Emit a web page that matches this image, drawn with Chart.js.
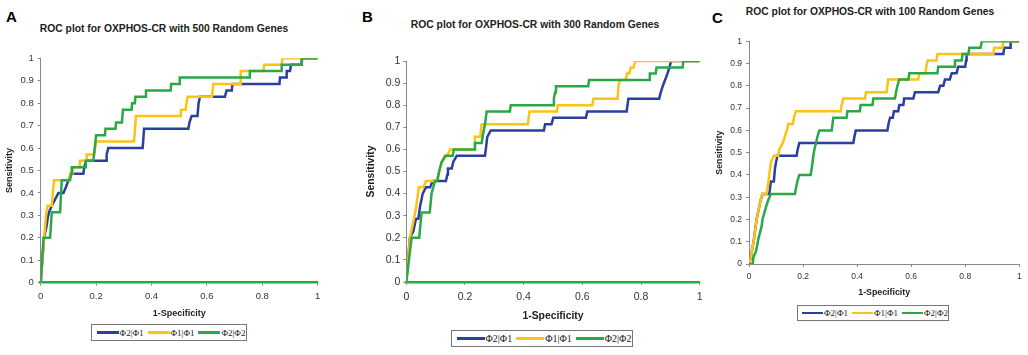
<!DOCTYPE html>
<html>
<head>
<meta charset="utf-8">
<script src="https://cdn.jsdelivr.net/npm/chart.js@4.4.1/dist/chart.umd.min.js"></script>
<style>
body { margin: 0; background: #fff; }
#wrap { position: relative; width: 1028px; height: 355px; overflow: hidden; font-family: "Liberation Sans", Arial, sans-serif; }
canvas { position: absolute; }
.letter { position: absolute; font-weight: bold; font-size: 15px; color: #000; line-height: 1; }
.title { position: absolute; font-weight: bold; font-size: 10.3px; color: #222; white-space: nowrap; transform: translate(-50%, -50%); }
.legend { position: absolute; box-sizing: border-box; border: 1px solid #777; background: #fff;
  display: flex; align-items: center; justify-content: center; font-family: "Liberation Serif", "DejaVu Serif", serif; color: #222; white-space: nowrap; }
.legend .ln { display: inline-block; height: 2.5px; margin: 0 1px 0 4px; }
</style>
</head>
<body>
<div id="wrap">
  <div class="letter" style="left:6px;top:9px">A</div>
  <div class="letter" style="left:362px;top:9px">B</div>
  <div class="letter" style="left:712px;top:10px">C</div>
  <div class="title" id="titleA" style="left:164px;top:28px"></div>
  <div class="title" id="titleB" style="left:535px;top:24px"></div>
  <div class="title" id="titleC" style="left:870px;top:11px"></div>
  <canvas id="chartA" width="330" height="320" style="left:0;top:0"></canvas>
  <canvas id="chartB" width="375" height="323" style="left:340px;top:0"></canvas>
  <canvas id="chartC" width="338" height="300" style="left:690px;top:0"></canvas>
  <div class="legend" id="legendA" style="left:91px;top:324px;width:156px;height:17px;font-size:9px"></div>
  <div class="legend" id="legendB" style="left:451px;top:330px;width:182px;height:17px;font-size:10px"></div>
  <div class="legend" id="legendC" style="left:797px;top:305px;width:152px;height:16px;font-size:9px"></div>
</div>
<script>
// DATA
const panelTitles = [
	'ROC plot for OXPHOS-CR with 500 Random Genes',
	'ROC plot for OXPHOS-CR with 300 Random Genes',
	'ROC plot for OXPHOS-CR with 100 Random Genes'
];
const seriesNames = ['Φ2|Φ1', 'Φ1|Φ1', 'Φ2|Φ2'];
const seriesColors = ['#2b3f9e', '#fcc214', '#2ba846'];
const xTicks = [0, 0.2, 0.4, 0.6, 0.8, 1];
const yTicks = [0, 0.1, 0.2, 0.3, 0.4, 0.5, 0.6, 0.7, 0.8, 0.9, 1];
const xLabel = '1-Specificity';
const yLabel = 'Sensitivity';

// panel A : 500 random genes  [1-specificity, sensitivity]
const rocA_21 = [[0,0],[0.012,0.2],[0.022,0.257],[0.025,0.286],[0.03,0.314],[0.04,0.343],[0.052,0.371],[0.064,0.4],[0.082,0.4],[0.092,0.429],[0.1,0.457],[0.112,0.486],[0.154,0.486],[0.157,0.514],[0.164,0.543],[0.236,0.543],[0.238,0.571],[0.244,0.6],[0.368,0.6],[0.37,0.629],[0.373,0.686],[0.533,0.686],[0.537,0.714],[0.545,0.743],[0.566,0.743],[0.57,0.8],[0.575,0.829],[0.665,0.829],[0.671,0.857],[0.69,0.857],[0.692,0.886],[0.862,0.886],[0.864,0.914],[0.886,0.914],[0.888,0.943],[0.9,0.943],[0.904,0.971],[0.94,0.971],[0.942,1],[1,1]];
const rocA_11 = [[0,0],[0.012,0.2],[0.02,0.31],[0.025,0.343],[0.04,0.343],[0.048,0.457],[0.103,0.457],[0.106,0.486],[0.115,0.486],[0.118,0.514],[0.14,0.514],[0.142,0.543],[0.164,0.543],[0.166,0.571],[0.193,0.571],[0.2,0.629],[0.337,0.629],[0.344,0.743],[0.503,0.743],[0.506,0.771],[0.523,0.771],[0.53,0.829],[0.618,0.829],[0.623,0.886],[0.72,0.886],[0.722,0.943],[0.804,0.943],[0.807,0.971],[0.87,0.971],[0.873,1],[1,1]];
const rocA_22 = [[0,0],[0.01,0.2],[0.034,0.2],[0.04,0.314],[0.07,0.314],[0.076,0.457],[0.106,0.457],[0.11,0.486],[0.112,0.514],[0.16,0.514],[0.163,0.543],[0.19,0.543],[0.2,0.657],[0.232,0.657],[0.234,0.686],[0.27,0.686],[0.272,0.714],[0.293,0.714],[0.297,0.771],[0.328,0.771],[0.33,0.8],[0.34,0.8],[0.342,0.829],[0.377,0.829],[0.38,0.857],[0.469,0.857],[0.471,0.886],[0.5,0.886],[0.502,0.914],[0.753,0.914],[0.755,0.943],[0.868,0.943],[0.87,0.971],[0.942,0.971],[0.944,1],[1,1]];

// panel B : 300 random genes
const rocB_21 = [[0,0],[0.012,0.2],[0.024,0.229],[0.033,0.286],[0.041,0.286],[0.047,0.343],[0.056,0.4],[0.067,0.429],[0.081,0.429],[0.09,0.457],[0.135,0.457],[0.14,0.486],[0.142,0.514],[0.155,0.514],[0.16,0.543],[0.172,0.571],[0.268,0.571],[0.271,0.6],[0.276,0.657],[0.288,0.686],[0.469,0.686],[0.473,0.714],[0.495,0.714],[0.501,0.743],[0.612,0.743],[0.617,0.771],[0.751,0.771],[0.754,0.8],[0.757,0.829],[0.862,0.829],[0.867,0.857],[0.874,0.886],[0.882,0.914],[0.89,0.943],[0.897,0.971],[0.902,1],[1,1]];
const rocB_11 = [[0,0],[0.0125,0.2],[0.026,0.286],[0.034,0.343],[0.043,0.429],[0.058,0.429],[0.067,0.457],[0.103,0.457],[0.109,0.486],[0.115,0.514],[0.122,0.543],[0.13,0.571],[0.14,0.571],[0.149,0.6],[0.232,0.6],[0.234,0.657],[0.252,0.657],[0.257,0.714],[0.414,0.714],[0.417,0.743],[0.42,0.771],[0.513,0.771],[0.516,0.8],[0.634,0.8],[0.638,0.829],[0.72,0.829],[0.723,0.886],[0.728,0.914],[0.748,0.914],[0.752,0.943],[0.76,0.943],[0.765,0.971],[0.775,0.971],[0.78,1],[1,1]];
const rocB_22 = [[0,0],[0.018,0.2],[0.044,0.2],[0.052,0.314],[0.08,0.314],[0.086,0.4],[0.098,0.457],[0.106,0.457],[0.112,0.5],[0.12,0.543],[0.135,0.571],[0.158,0.571],[0.162,0.6],[0.232,0.6],[0.234,0.629],[0.257,0.629],[0.26,0.657],[0.268,0.714],[0.274,0.771],[0.353,0.771],[0.356,0.8],[0.5,0.8],[0.503,0.829],[0.507,0.857],[0.51,0.886],[0.62,0.886],[0.623,0.914],[0.828,0.914],[0.83,0.943],[0.85,0.943],[0.853,0.971],[0.942,0.971],[0.944,1],[1,1]];

// panel C : 100 random genes
const rocC_21 = [[0,0],[0.007,0.03],[0.018,0.11],[0.028,0.2],[0.043,0.286],[0.05,0.314],[0.075,0.314],[0.081,0.371],[0.092,0.371],[0.096,0.429],[0.1,0.457],[0.105,0.486],[0.176,0.486],[0.18,0.514],[0.186,0.543],[0.386,0.543],[0.39,0.571],[0.395,0.6],[0.512,0.6],[0.516,0.629],[0.522,0.657],[0.532,0.657],[0.536,0.686],[0.552,0.686],[0.556,0.714],[0.571,0.714],[0.574,0.743],[0.608,0.743],[0.614,0.771],[0.7,0.771],[0.707,0.8],[0.719,0.8],[0.725,0.829],[0.743,0.829],[0.75,0.857],[0.768,0.857],[0.774,0.886],[0.8,0.886],[0.803,0.914],[0.805,0.943],[0.941,0.943],[0.944,0.971],[0.966,0.971],[0.968,1],[1,1]];
const rocC_11 = [[0,0],[0.007,0.03],[0.018,0.11],[0.028,0.2],[0.043,0.286],[0.049,0.314],[0.065,0.314],[0.072,0.371],[0.075,0.4],[0.081,0.457],[0.092,0.486],[0.108,0.486],[0.112,0.514],[0.125,0.543],[0.132,0.571],[0.14,0.6],[0.145,0.629],[0.162,0.629],[0.166,0.657],[0.174,0.686],[0.339,0.686],[0.343,0.714],[0.349,0.743],[0.429,0.743],[0.433,0.771],[0.509,0.771],[0.512,0.8],[0.515,0.829],[0.626,0.829],[0.63,0.857],[0.652,0.857],[0.656,0.886],[0.661,0.914],[0.694,0.914],[0.697,0.943],[0.904,0.943],[0.907,0.971],[0.938,0.971],[0.94,1],[1,1]];
const rocC_22 = [[0,0],[0.014,0],[0.016,0.029],[0.026,0.057],[0.035,0.114],[0.047,0.171],[0.05,0.2],[0.063,0.257],[0.071,0.286],[0.081,0.314],[0.17,0.314],[0.174,0.343],[0.179,0.371],[0.186,0.4],[0.228,0.4],[0.232,0.429],[0.235,0.457],[0.238,0.486],[0.242,0.514],[0.248,0.543],[0.253,0.571],[0.26,0.6],[0.306,0.6],[0.309,0.629],[0.312,0.657],[0.361,0.657],[0.364,0.686],[0.41,0.686],[0.413,0.714],[0.457,0.714],[0.46,0.743],[0.54,0.743],[0.544,0.771],[0.549,0.8],[0.556,0.829],[0.59,0.829],[0.593,0.857],[0.697,0.857],[0.7,0.886],[0.76,0.886],[0.762,0.914],[0.787,0.914],[0.79,0.943],[0.812,0.943],[0.815,0.971],[0.857,0.971],[0.861,1],[1,1]];

// LAYOUT (per panel)
const panels = [
	{ id: 'A', series: [rocA_21, rocA_11, rocA_22], pad: { left: 1, top: 58.3, right: 12.3, bottom: 0 },
	  yWidth: 39.7, xHeight: 37.3, tickSize: 9.5, labelSize: 9, yTickPad: 4, xTickPad: 5, yTitlePad: 3.4, xTitlePad: 0.7, xBorder: '#2ba846' },
	{ id: 'B', series: [rocB_21, rocB_11, rocB_22], pad: { left: 20, top: 61, right: 15.3, bottom: 0 },
	  yWidth: 46.3, xHeight: 41, tickSize: 10.5, labelSize: 10.4, yTickPad: 3, xTickPad: 5.5, yTitlePad: 4.8, xTitlePad: 0.8, xBorder: '#2ba846' },
	{ id: 'C', series: [rocC_21, rocC_11, rocC_22], pad: { left: 19, top: 41.3, right: 8.7, bottom: 0 },
	  yWidth: 40, xHeight: 36, tickSize: 8.5, labelSize: 8.8, yTickPad: 4, xTickPad: 5, yTitlePad: 5.6, xTitlePad: 2, xBorder: '#888' }
];

Chart.defaults.font.family = '"Liberation Sans", Arial, sans-serif';
Chart.defaults.color = '#333';

// BUILD CHARTS
panels.forEach((p, k) => {
	document.getElementById('title' + p.id).textContent = panelTitles[k];

	const legend = document.getElementById('legend' + p.id);
	seriesNames.forEach((name, i) => {
		const ln = document.createElement('span');
		ln.className = 'ln';
		ln.style.background = seriesColors[i];
		ln.style.width = (p.id === 'B' ? 28 : 22) + 'px';
		legend.appendChild(ln);
		legend.appendChild(document.createTextNode(name));
	});

	const ctx = document.getElementById('chart' + p.id).getContext('2d');
	new Chart(ctx, {
		type: 'scatter',
		data: {
			datasets: p.series.map((s, i) => ({
				label: seriesNames[i],
				data: s.map(pt => ({ x: pt[0], y: pt[1] })),
				showLine: true,
				borderColor: seriesColors[i],
				backgroundColor: seriesColors[i],
				borderWidth: 2.5,
				pointRadius: 0,
				tension: 0,
				order: 3 - i
			}))
		},
		options: {
			responsive: false,
			animation: false,
			layout: { padding: p.pad },
			plugins: { legend: { display: false }, tooltip: { enabled: false } },
			scales: {
				x: {
					type: 'linear', min: 0, max: 1,
					afterBuildTicks: s => { s.ticks = xTicks.map(v => ({ value: v })); },
					afterFit: s => { s.height = p.xHeight; },
					ticks: { callback: v => String(v), font: { size: p.tickSize }, padding: p.xTickPad, maxRotation: 0, color: '#333' },
					grid: { drawOnChartArea: false, drawTicks: true, tickLength: 3, color: '#888' },
					border: { color: p.xBorder, width: p.xBorder === '#888' ? 1 : 2.5 },
					title: { display: true, text: xLabel, font: { size: p.labelSize, weight: 'bold' }, color: '#222', padding: { top: 0, bottom: p.xTitlePad } }
				},
				y: {
					type: 'linear', min: 0, max: 1,
					afterBuildTicks: s => { s.ticks = yTicks.map(v => ({ value: v })); },
					afterFit: s => { s.width = p.yWidth; },
					ticks: { callback: v => String(v), font: { size: p.tickSize }, padding: p.yTickPad, color: '#333' },
					grid: { drawOnChartArea: false, drawTicks: true, tickLength: 3, color: '#888' },
					border: { color: '#888', width: 1 },
					title: { display: true, text: yLabel, font: { size: p.labelSize, weight: 'bold' }, color: '#222', padding: { top: p.yTitlePad, bottom: 0 } }
				}
			}
		}
	});
});
</script>
</body>
</html>
